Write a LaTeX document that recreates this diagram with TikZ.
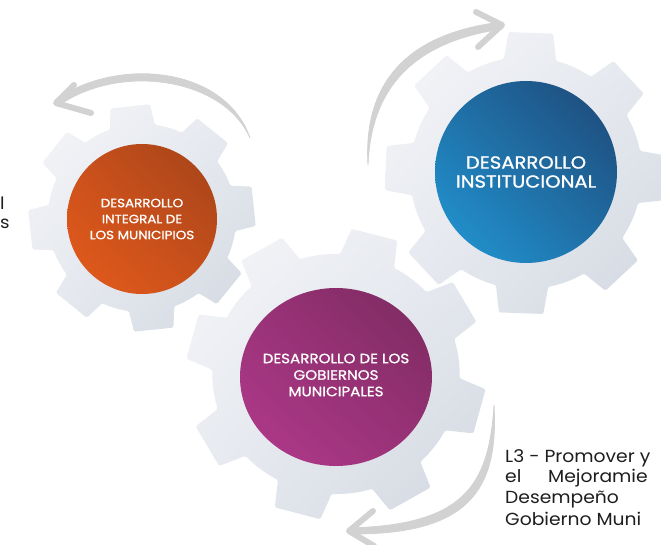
\documentclass[tikz,border=0pt]{standalone}
\usepackage{fontspec}
\setmainfont{Poppins}
\newfontfamily\popm[FakeBold=1.2,FakeStretch=1.12]{Poppins}
\newfontfamily\popb[FakeStretch=1.07]{Poppins}
\usetikzlibrary{shapes.geometric,shadings}
\definecolor{gearlight}{HTML}{F5F6F9}
\definecolor{gearmid}{HTML}{E6E9EF}
\definecolor{geardark}{HTML}{D2D8E1}
\definecolor{arrowgray}{HTML}{D2D2D2}
\definecolor{orL}{HTML}{E65B1C}
\definecolor{orM}{HTML}{C9501B}
\definecolor{orD}{HTML}{A2431A}
\definecolor{blL}{HTML}{2299D6}
\definecolor{blM}{HTML}{1F6FA6}
\definecolor{blD}{HTML}{1F4675}
\definecolor{puL}{HTML}{B23A8D}
\definecolor{puM}{HTML}{993277}
\definecolor{puD}{HTML}{7A2A5E}
\definecolor{txt}{HTML}{1E1E1E}
\tikzset{
  gearstyle/.style={upper left=gearlight, lower right=geardark, upper right=gearmid, lower left=gearmid},
  brush/.style={draw=arrowgray, line width=6pt, line cap=round, line join=round},
  brushfill/.style={fill=arrowgray, draw=arrowgray, line width=0.8pt, line join=round},
  disc/.style={circle, shade, text=white, align=center, inner sep=0pt},
  disctext/.style={text=white, align=center, inner sep=0pt},
  body/.style={anchor=base west, inner sep=0pt, text=txt, font=\popb\fontsize{17.5}{21}\selectfont},
}
% cx cy root tip offset rootHalf tipHalf xscale
\newcommand{\gearshape}[8]{%
  \begin{scope}[shift={(#1,#2)}, xscale=#8]
    \shade[gearstyle, rounded corners=1.5pt] ({#5-#6}:#3)
      \foreach \k in {0,...,7}{
        -- ({#5+45*\k-#7}:#4) -- ({#5+45*\k+#7}:#4) -- ({#5+45*\k+#6}:#3)
        arc[start angle={#5+45*\k+#6}, end angle={#5+45*(\k+1)-#6}, radius=#3]
      } -- cycle;
  \end{scope}}
\begin{document}
\begin{tikzpicture}[x=1pt, y=-1pt]
\useasboundingbox (0,0) rectangle (661,545);
\fill[white] (0,0) rectangle (661,545);

% brush arrows (tapered shafts + chevron heads)
\coordinate (a1s) at (250,138);
\coordinate (a1t) at (56,103);
\filldraw[brushfill] (a1s) .. controls (226,68) and (120,55) .. (55,100)
  -- (58,106) .. controls (120,62) and (224,78) .. (a1s) -- cycle;
\draw[brush] (74,85) -- (a1t) -- (91,113);

\coordinate (a2s) at (368,165);
\coordinate (a2t) at (502,25);
\filldraw[brushfill] (a2s) .. controls (363,82) and (408,33) .. (502,22)
  -- (502,29) .. controls (413,42) and (371,88) .. (a2s) -- cycle;
\draw[brush] (476,12) -- (a2t) -- (478,47);

\coordinate (a3s) at (494,405);
\coordinate (a3t) at (349,531);
\filldraw[brushfill] (a3s) .. controls (499,492) and (467,535) .. (349,534)
  -- (349,528) .. controls (462,525) and (489,488) .. (a3s) -- cycle;
\draw[brush] (373,511) -- (a3t) -- (374,546);

% gears
\gearshape{142}{218}{94}{114}{39}{14}{10}{1}
\gearshape{526}{173}{116}{142}{2}{13}{9}{1}
\gearshape{336}{374}{120}{146}{15}{13}{9}{1.03}

% discs
\node[disc, minimum size=150pt, lower left=orL, upper right=orD, upper left=orM, lower right=orM,
      font=\popm\fontsize{12}{16}\selectfont] (dim) at (142,219)
  {DESARROLLO\\INTEGRAL DE\\LOS MUNICIPIOS};
\node[disc, minimum size=182pt, lower left=blL, upper right=blD, upper left=blM, lower right=blM,
      font=\popm\fontsize{17.5}{19}\selectfont] (din) at (526,172)
  {DESARROLLO\\INSTITUCIONAL};
\shade[lower left=puL, upper right=puD, upper left=puM, lower right=puM]
  (336,377) ellipse [x radius=96, y radius=89];
\node[disctext, font=\popm\fontsize{13.5}{16.5}\selectfont] (dgm) at (336,375)
  {DESARROLLO DE LOS\\GOBIERNOS\\MUNICIPALES};

% side texts
\node[anchor=base west, inner sep=0pt, text=txt, font=\popb\fontsize{17}{21}\selectfont] (lt1) at (0,210) {l};
\node[anchor=base west, inner sep=0pt, text=txt, font=\popb\fontsize{17}{21}\selectfont] (lt2) at (0,229) {s};

\node[body] (r1) at (505,462) {L3 - Promover y};
\node[body] (r2a) at (505,482) {el};
\node[body] (r2b) at (548,482) {Mejoramie};
\node[body] (r3) at (505,503) {Desempeño};
\node[body] (r4) at (505,525) {Gobierno Muni};
\end{tikzpicture}
\end{document}
